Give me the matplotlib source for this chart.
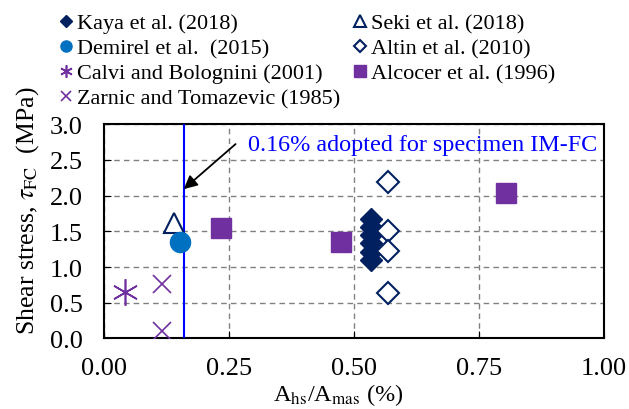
import matplotlib
matplotlib.use("Agg")
import matplotlib.pyplot as plt
from matplotlib.lines import Line2D

plt.rcParams['font.family'] = ['Liberation Serif', 'DejaVu Serif']
plt.rcParams['mathtext.fontset'] = 'stix'

# data
kaya_x = [0.535] * 6
kaya_y = [1.10, 1.21, 1.33, 1.45, 1.56, 1.67]
seki_x = [0.14]
seki_y = [1.62]
demirel_x = [0.152]
demirel_y = [1.35]
altin_x = [0.568, 0.568, 0.568, 0.568]
altin_y = [2.19, 1.51, 1.22, 0.64]
calvi_x = [0.043]
calvi_y = [0.65]
alcocer_x = [0.234, 0.475, 0.804]
alcocer_y = [1.55, 1.35, 2.03]
zarnic_x = [0.116, 0.116]
zarnic_y = [0.76, 0.10]
adopted = 0.16

navy = '#002060'
blue = '#0070C0'
purple = '#7030A0'

fig = plt.figure(figsize=(6.29, 4.10), dpi=100)
ax = fig.add_axes([0.165, 0.172, 0.795, 0.523])

ax.plot(kaya_x, kaya_y, 'D', color=navy, ms=11.5, ls='none', zorder=4)
ax.plot(seki_x, seki_y, '^', mfc='white', mec=navy, mew=1.5, ms=15, ls='none', zorder=4)
ax.plot(demirel_x, demirel_y, 'o', color=blue, ms=14.5, ls='none', zorder=4)
ax.plot(altin_x, altin_y, 'D', mfc='white', mec=navy, mew=1.5, ms=11.5, ls='none', zorder=4)
ax.plot(calvi_x, calvi_y, marker=(6, 2, 0), color=purple, mew=1.2, ms=19, ls='none', zorder=4)
ax.plot(alcocer_x, alcocer_y, 's', color=purple, ms=14.5, ls='none', zorder=4)
ax.plot(zarnic_x, zarnic_y, 'x', color=purple, mew=1.2, ms=13, ls='none', zorder=4)

ax.axvline(adopted, color='#0000FF', lw=1.5, zorder=3)
ax.annotate('0.16% adopted for specimen IM-FC', xy=(adopted, 2.09), xytext=(0.288, 2.72),
            color='#0000FF', fontsize=17.4, va='center',
            arrowprops=dict(arrowstyle='-|>', color='black', lw=1.3,
                            mutation_scale=20, shrinkA=0, shrinkB=0,
                            relpos=(-0.035, 0.5)))

ax.set_xlim(0, 1)
ax.set_ylim(0, 3)
ax.set_xticks([0, 0.25, 0.5, 0.75, 1.0])
ax.set_xticklabels(['0.00', '0.25', '0.50', '0.75', '1.00'])
ax.set_yticks([0, 0.5, 1.0, 1.5, 2.0, 2.5, 3.0])
ax.set_yticklabels(['0.0', '0.5', '1.0', '1.5', '2.0', '2.5', '3.0'])
ax.tick_params(direction='in', labelsize=19, length=5, color='black', pad=15)
ax.tick_params(axis='x', pad=13)
ax.grid(True, ls=(0, (4, 3)), color='#808080', lw=1)
for s in ax.spines.values():
    s.set_linewidth(1.5)

ax.set_xlabel('A$_{\\mathrm{hs}}$/A$_{\\mathrm{mas}}$ (%)', fontsize=17.5)
ax.xaxis.set_label_coords(0.468, -0.2)
ax.set_ylabel('Shear stress, $\\tau_{\\mathrm{FC}}$  (MPa)', fontsize=18.5)
ax.yaxis.set_label_coords(-0.125, 0.6)

handles = [
    Line2D([], [], marker='D', color=navy, ls='none', ms=6.5),
    Line2D([], [], marker='o', color=blue, ls='none', ms=8),
    Line2D([], [], marker=(6, 2, 0), color=purple, mew=1.2, ls='none', ms=9),
    Line2D([], [], marker='x', color=purple, mew=1.2, ls='none', ms=7),
    Line2D([], [], marker='^', mfc='white', mec=navy, mew=1.5, ls='none', ms=8),
    Line2D([], [], marker='D', mfc='white', mec=navy, mew=1.5, ls='none', ms=6.5),
    Line2D([], [], marker='s', color=purple, ls='none', ms=9),
]
labels = ['Kaya et al. (2018)', 'Demirel et al.  (2015)', 'Calvi and Bolognini (2001)',
          'Zarnic and Tomazevic (1985)', 'Seki et al. (2018)', 'Altin et al. (2010)',
          'Alcocer et al. (1996)']
fig.legend(handles, labels, ncol=2, loc='upper left', bbox_to_anchor=(0.08, 0.988),
           frameon=False, fontsize=16, handlelength=0.6, handletextpad=0.2,
           columnspacing=0.6, labelspacing=0.2, borderaxespad=0)

fig.savefig('out.png', dpi=100)
